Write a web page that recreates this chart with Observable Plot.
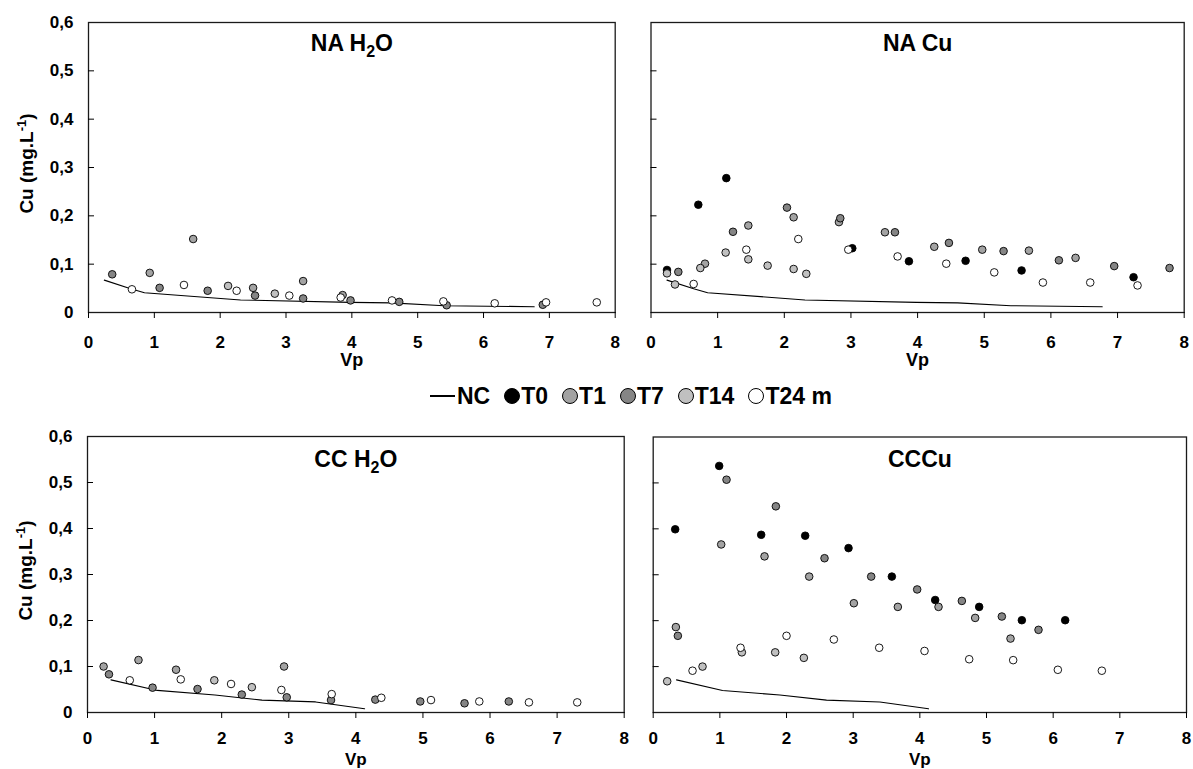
<!DOCTYPE html>
<html>
<head>
<meta charset="utf-8">
<script src="https://cdn.jsdelivr.net/npm/d3@7"></script>
<script src="https://cdn.jsdelivr.net/npm/@observablehq/plot@0.6"></script>
<style>
  html, body { margin: 0; padding: 0; background: #ffffff; }
  #chart { position: relative; width: 1193px; height: 769px; overflow: hidden; font-family: "Liberation Sans", Arial, Helvetica, sans-serif; }
  .panel { position: absolute; }
  #legend { position: absolute; left: 430px; top: 383px; height: 26px; display: flex; align-items: center; gap: 14px;
            font-family: "Liberation Sans", Arial, Helvetica, sans-serif; font-weight: bold; font-size: 23px; color: #000; white-space: nowrap; }
  #legend .item { display: flex; align-items: center; }
  #legend .ln { display: inline-block; width: 25px; height: 2.5px; background: #000; margin-right: 2px; }
  #legend .sw { display: inline-block; width: 14px; height: 14px; border-radius: 50%; border: 1px solid #000; margin-right: 1px; }
</style>
</head>
<body>
<div id="chart"><div id="legend"></div></div>
<script>
// ---------- data ----------
const xTicks = [0, 1, 2, 3, 4, 5, 6, 7, 8];
const yTicks = [0, 0.1, 0.2, 0.3, 0.4, 0.5, 0.6];
const dotSeries = ["T0", "T1", "T7", "T14", "T24 m"];
const dotColors = ["#000000", "#a3a3a3", "#858585", "#c0c0c0", "#ffffff"];
const lineSeries = "NC";
const panelTitles = ["NA H2O", "NA Cu", "CC H2O", "CCCu"];
const xLabel = "Vp";
const yLabel = "Cu (mg.L-1)";

// NC reference line (Vp, Cu)
const ncNA = [[0.24, 0.067], [0.64, 0.049], [0.85, 0.041], [2.31, 0.026], [3.98, 0.021], [4.6, 0.020], [5.4, 0.014], [6.77, 0.012]];
const ncCC = [[0.35, 0.071], [1.04, 0.048], [1.9, 0.038], [2.6, 0.027], [3.4, 0.023], [4.13, 0.008]];

// NA H2O
const naH2O_T1 = [[0.93, 0.082], [1.59, 0.152], [2.50, 0.051], [3.26, 0.065], [3.86, 0.036]];
const naH2O_T7 = [[0.36, 0.079], [1.08, 0.051], [1.81, 0.045], [2.53, 0.035], [3.26, 0.029], [3.98, 0.025], [4.72, 0.022], [5.44, 0.015], [6.90, 0.016]];
const naH2O_T14 = [[2.12, 0.055], [2.83, 0.039]];
const naH2O_T24 = [[0.66, 0.048], [1.45, 0.057], [2.25, 0.045], [3.05, 0.035], [3.83, 0.031], [4.61, 0.025], [5.39, 0.023], [6.17, 0.019], [6.95, 0.021], [7.72, 0.021]];

// NA Cu
const naCu_T0 = [[0.24, 0.088], [0.71, 0.223], [1.13, 0.278], [3.02, 0.133], [3.87, 0.106], [4.72, 0.107], [5.56, 0.087], [7.24, 0.073]];
const naCu_T1 = [[0.81, 0.101], [1.46, 0.180], [2.14, 0.197], [2.82, 0.187], [3.51, 0.166], [4.25, 0.136], [4.97, 0.130], [5.67, 0.128], [6.37, 0.113]];
const naCu_T7 = [[0.41, 0.084], [1.23, 0.167], [2.04, 0.217], [2.84, 0.195], [3.66, 0.166], [4.47, 0.144], [5.29, 0.127], [6.12, 0.108], [6.95, 0.096], [7.78, 0.092]];
const naCu_T14 = [[0.24, 0.081], [0.36, 0.058], [0.74, 0.092], [1.12, 0.124], [1.46, 0.110], [1.75, 0.097], [2.14, 0.090], [2.33, 0.080]];
const naCu_T24 = [[0.64, 0.059], [1.43, 0.130], [2.21, 0.152], [2.96, 0.130], [3.70, 0.116], [4.43, 0.101], [5.15, 0.083], [5.88, 0.062], [6.59, 0.062], [7.30, 0.056]];

// CC H2O
const ccH2O_T1 = [[0.24, 0.100], [0.76, 0.114], [1.32, 0.093], [2.93, 0.100]];
const ccH2O_T7 = [[0.32, 0.083], [0.97, 0.054], [1.64, 0.051], [2.30, 0.039], [2.97, 0.033], [3.63, 0.027], [4.29, 0.028], [4.96, 0.024], [5.62, 0.020], [6.28, 0.024]];
const ccH2O_T14 = [[1.89, 0.070], [2.45, 0.055]];
const ccH2O_T24 = [[0.63, 0.070], [1.39, 0.072], [2.14, 0.062], [2.89, 0.049], [3.64, 0.040], [4.38, 0.032], [5.12, 0.027], [5.84, 0.024], [6.58, 0.022], [7.30, 0.022]];

// CCCu
const ccCu_T0 = [[0.33, 0.399], [0.99, 0.537], [1.62, 0.387], [2.28, 0.385], [2.93, 0.358], [3.58, 0.296], [4.23, 0.245], [4.89, 0.230], [5.53, 0.201], [6.18, 0.201]];
const ccCu_T1 = [[0.34, 0.186], [1.02, 0.366], [1.67, 0.340], [2.34, 0.296], [3.01, 0.238], [3.67, 0.230], [4.28, 0.230], [4.83, 0.206], [5.36, 0.161]];
const ccCu_T7 = [[0.37, 0.167], [1.10, 0.507], [1.84, 0.449], [2.57, 0.336], [3.27, 0.296], [3.96, 0.268], [4.63, 0.243], [5.23, 0.209], [5.78, 0.180]];
const ccCu_T14 = [[0.21, 0.068], [0.74, 0.100], [1.33, 0.131], [1.83, 0.131], [2.26, 0.119]];
const ccCu_T24 = [[0.59, 0.091], [1.31, 0.141], [2.00, 0.167], [2.71, 0.159], [3.39, 0.141], [4.07, 0.134], [4.74, 0.116], [5.40, 0.114], [6.07, 0.093], [6.73, 0.091]];

// ---------- layout ----------
const FONT = '"Liberation Sans", Arial, Helvetica, sans-serif';
const panels = [
  {title: panelTitles[0], nc: ncNA, dots: {"T1": naH2O_T1, "T7": naH2O_T7, "T14": naH2O_T14, "T24 m": naH2O_T24},
   yLabels: true, left: 0, top: 0, width: 632, height: 372, ml: 88, mr: 17.3, mt: 22, mb: 60, titleDy: 21, vpDy: 48, tickPad: 17, vpSize: 18},
  {title: panelTitles[1], nc: ncNA, dots: {"T0": naCu_T0, "T1": naCu_T1, "T7": naCu_T7, "T14": naCu_T14, "T24 m": naCu_T24},
   yLabels: false, left: 632, top: 0, width: 561, height: 372, ml: 18.5, mr: 9.3, mt: 22, mb: 60, titleDy: 21, vpDy: 48, tickPad: 17, vpSize: 18},
  {title: panelTitles[2], nc: ncCC, dots: {"T1": ccH2O_T1, "T7": ccH2O_T7, "T14": ccH2O_T14, "T24 m": ccH2O_T24},
   yLabels: true, left: 0, top: 415, width: 632, height: 354, ml: 87, mr: 8.3, mt: 21, mb: 57, titleDy: 23, vpDy: 47.5, tickPad: 13, vpSize: 17},
  {title: panelTitles[3], nc: ncCC, dots: {"T0": ccCu_T0, "T1": ccCu_T1, "T7": ccCu_T7, "T14": ccCu_T14, "T24 m": ccCu_T24},
   yLabels: false, left: 632, top: 415, width: 561, height: 354, ml: 20.7, mr: 7, mt: 21.5, mb: 57, titleDy: 23, vpDy: 47.5, tickPad: 13, vpSize: 17}
];

const fmtY = d => d === 0 ? "0" : d.toFixed(1).replace(".", ",");

function makePanel(p) {
  const data = dotSeries.flatMap(s => (p.dots[s] || []).map(([v, c]) => ({series: s, v, c})));
  const ncRows = p.nc.map(([v, c]) => ({series: lineSeries, v, c}));
  const marks = [
    Plot.line(ncRows, {x: "v", y: "c", stroke: "#000", strokeWidth: 1.1}),
    Plot.dot(data, {x: "v", y: "c", fill: "series", stroke: "#000", strokeWidth: 0.9, r: 3.8}),
    Plot.frame({stroke: "#1a1a1a", strokeWidth: 1.3}),
    Plot.axisX({ticks: xTicks, tickSize: 6, tickPadding: p.tickPad, tickFormat: d => String(d), fontSize: 17, fontWeight: "bold", label: null}),
    Plot.axisY({ticks: yTicks.slice(1, -1), tickSize: -6, tickFormat: () => "", label: null}),
    Plot.text([p.title], {text: d => d, frameAnchor: "top", dy: p.titleDy, lineAnchor: "middle", fontSize: 23, fontWeight: "bold"}),
    Plot.text([xLabel], {text: d => d, frameAnchor: "bottom", dy: p.vpDy, lineAnchor: "middle", fontSize: p.vpSize, fontWeight: "bold"})
  ];
  if (p.yLabels) {
    marks.push(Plot.axisY({ticks: yTicks, tickSize: 0, tickPadding: 15, tickFormat: fmtY, fontSize: 17, fontWeight: "bold", label: null}));
    marks.push(Plot.text([yLabel], {text: d => d, frameAnchor: "left", dx: -62, dy: -4, rotate: -90, textAnchor: "middle", lineAnchor: "middle", fontSize: 19, fontWeight: "bold"}));
  }
  const svg = Plot.plot({
    width: p.width, height: p.height,
    marginLeft: p.ml, marginRight: p.mr, marginTop: p.mt, marginBottom: p.mb,
    style: {fontFamily: FONT, fontSize: "17px", fontWeight: "bold", color: "#000", background: "transparent", overflow: "visible"},
    x: {domain: [0, 8]},
    y: {domain: [0, 0.6]},
    color: {domain: dotSeries, range: dotColors},
    marks
  });
  // subscripts / superscripts
  d3.select(svg).selectAll("text").each(function() {
    const t = this.textContent;
    const sel = d3.select(this);
    if (t === p.title && t.includes("H2O")) {
      const [a, b] = t.split("2");
      sel.text(null);
      sel.append("tspan").text(a);
      sel.append("tspan").attr("dy", 6).attr("font-size", 16).text("2");
      sel.append("tspan").attr("dy", -6).text(b);
    } else if (t === yLabel) {
      sel.text(null);
      sel.append("tspan").text("Cu (mg.L");
      sel.append("tspan").attr("dy", -7).attr("font-size", 13).text("-1");
      sel.append("tspan").attr("dy", 7).text(")");
    }
  });
  svg.classList.add("panel");
  svg.style.left = p.left + "px";
  svg.style.top = p.top + "px";
  return svg;
}

const chart = document.getElementById("chart");
panels.forEach(p => chart.appendChild(makePanel(p)));

// legend
const legend = document.getElementById("legend");
{
  const it = document.createElement("div"); it.className = "item";
  it.innerHTML = `<span class="ln"></span><span>${lineSeries}</span>`;
  legend.appendChild(it);
}
dotSeries.forEach((s, i) => {
  const it = document.createElement("div"); it.className = "item";
  it.innerHTML = `<span class="sw" style="background:${dotColors[i]}"></span><span>${s}</span>`;
  legend.appendChild(it);
});
</script>
</body>
</html>
